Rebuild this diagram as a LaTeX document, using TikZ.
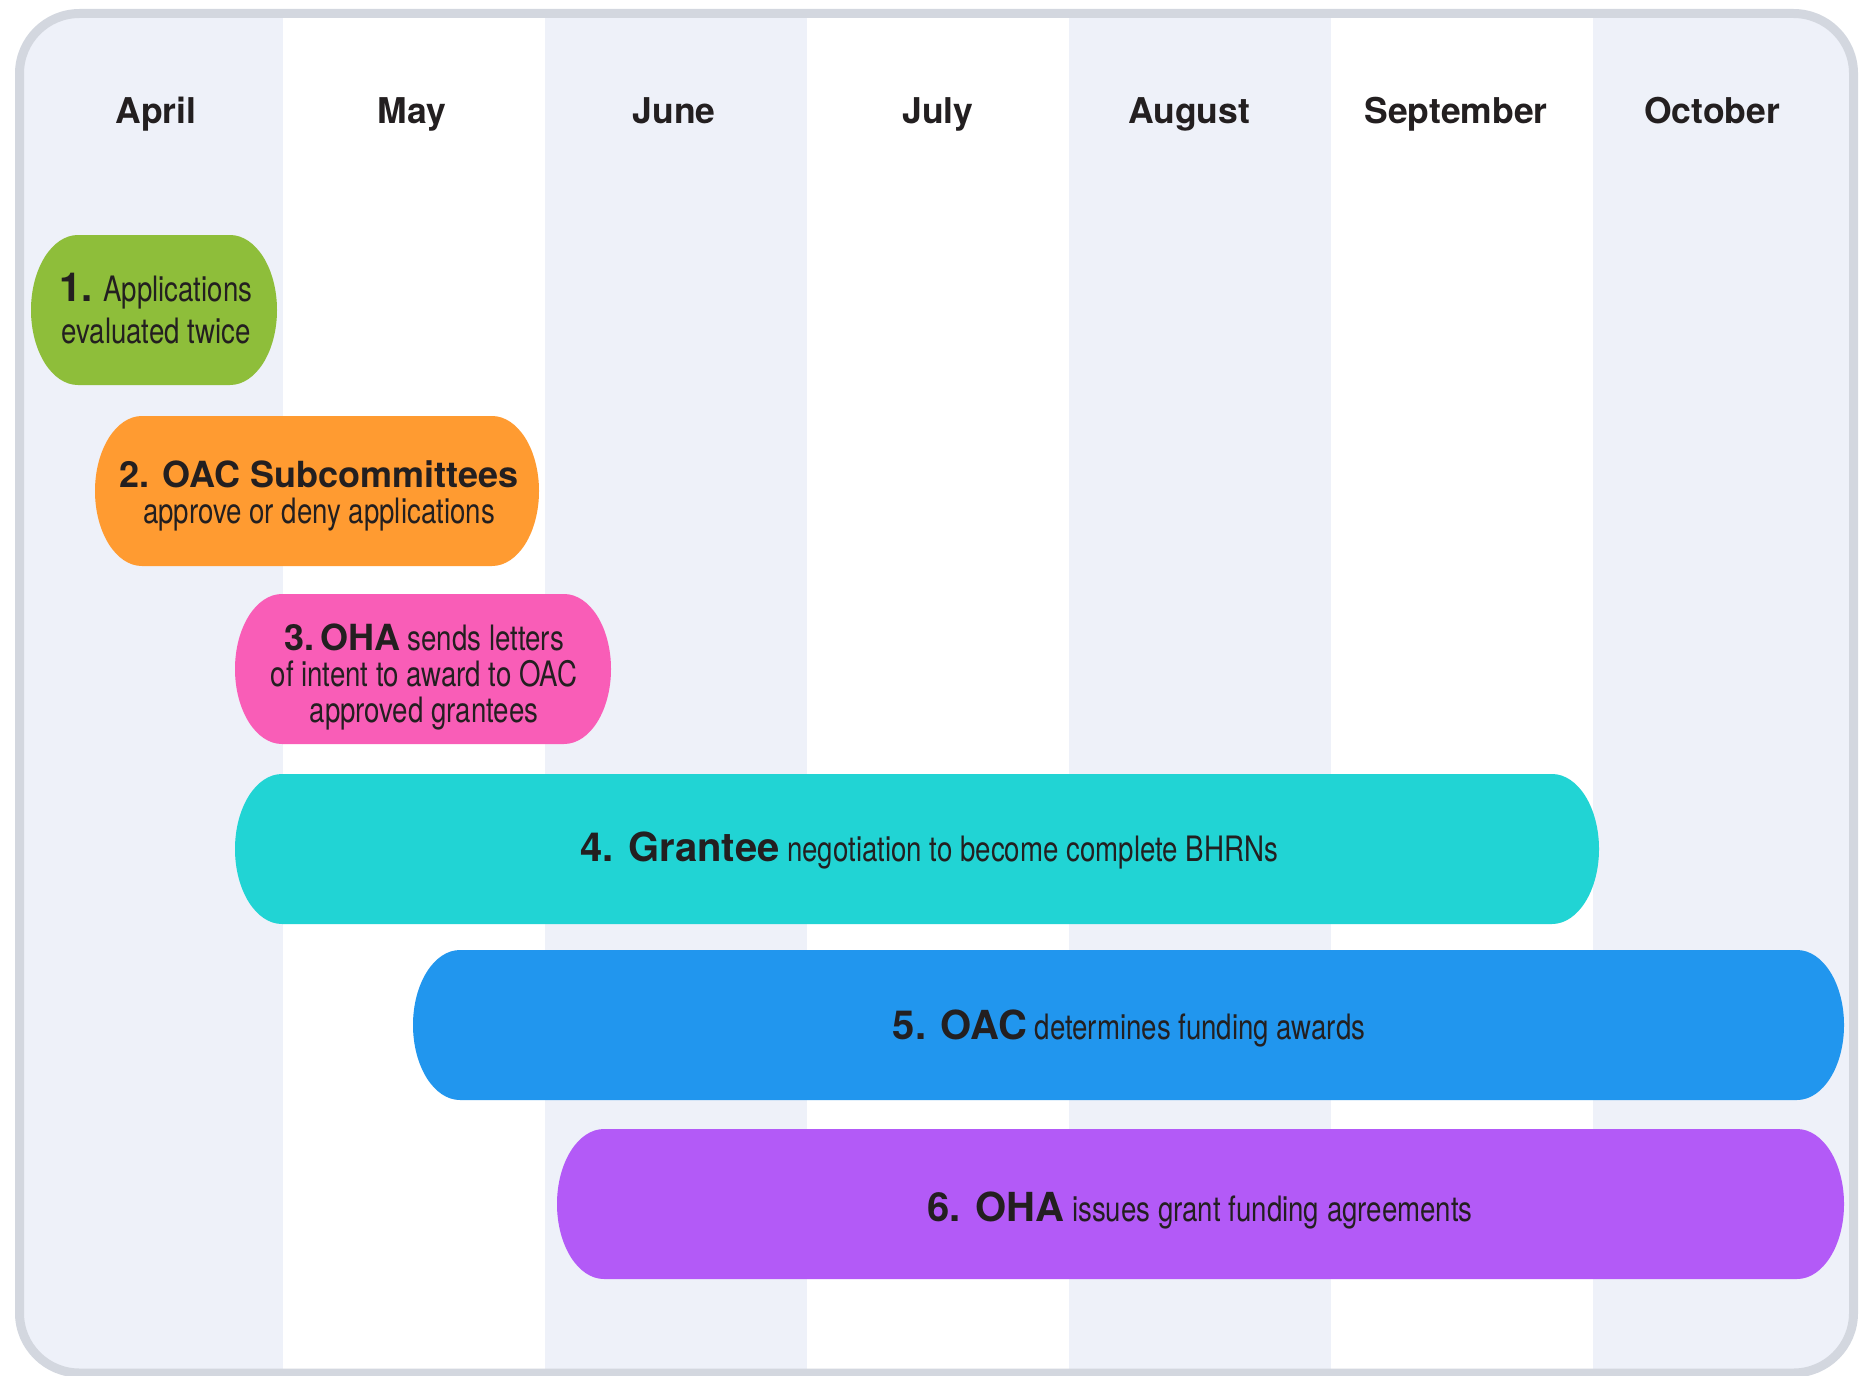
\documentclass[tikz,border=0pt]{standalone}
\usepackage{fontspec}
\setmainfont{TeX Gyre Heros}
\newfontfamily\narrowfont[FakeStretch=0.79]{TeX Gyre Heros}
\usetikzlibrary{positioning}

\definecolor{ink}{HTML}{231F20}
\definecolor{framegray}{HTML}{D3D7DF}
\definecolor{colshade}{HTML}{EEF1F9}
\definecolor{phgreen}{HTML}{8EBE3A}
\definecolor{phorange}{HTML}{FF9B31}
\definecolor{phpink}{HTML}{F95DB7}
\definecolor{phcyan}{HTML}{21D4D4}
\definecolor{phblue}{HTML}{2196EE}
\definecolor{phpurple}{HTML}{B35AF7}

% pill with elliptic ends: colour, left, right, top (px, y down)
\newcommand{\pill}[4]{%
  \fill[#1] ({#2+47},{-#4}) -- ({#3-47},{-#4})
    arc[start angle=90,end angle=-90,x radius=47,y radius=75]
    -- ({#2+47},{-#4-150})
    arc[start angle=270,end angle=90,x radius=47,y radius=75] -- cycle;}
\newcommand{\key}[2]{{\normalfont\bfseries\fontsize{#1}{#1}\selectfont #2}}

\begin{document}
\begin{tikzpicture}[x=1pt,y=1pt,
					month/.style={font=\bfseries\fontsize{35.5}{40}\selectfont, text=ink, anchor=base},
					txt/.style={align=center, text=ink, font=\narrowfont\fontsize{35}{36}\selectfont}]
	\useasboundingbox (0,0) rectangle (1867,-1375);
	% frame and shaded months
	\begin{scope}
		\clip[rounded corners=60] (19.5,-13.5) rectangle (1853.5,-1373);
		\fill[white] (0,0) rectangle (1867,-1375);
		\foreach \x/\w in {0/283, 545/262, 1069/262, 1593/274}
			\fill[colshade] (\x,0) rectangle ++(\w,-1375);
	\end{scope}
	\draw[framegray, line width=9pt, rounded corners=60] (19.5,-13.5) rectangle (1853.5,-1373);
	
	\foreach \n/\m/\x in {apr/April/156, may/May/412, jun/June/674, jul/July/938, aug/August/1189, sep/September/1456, oct/October/1712}
		\node[month] (\n) at (\x,-124) {\m};
	
	\pill{phgreen}{31}{277}{235}
	\pill{phorange}{95}{539}{416}
	\pill{phpink}{235}{611}{594}
	\pill{phcyan}{235}{1599}{774}
	\pill{phblue}{413}{1844}{950}
	\pill{phpurple}{557}{1844}{1129}
	
	\node[txt, font=\narrowfont\fontsize{35}{42}\selectfont] (p1) at (156,-309) {\key{40}{1.} Applications\\evaluated twice};
	\node[txt] (p2) at (319,-496) {\key{36}{2. OAC Subcommittees}\\approve or deny applications};
	\node[txt] (p3) at (424,-677) {\key{36}{3.\,OHA} sends letters\\of intent to award to OAC\\approved grantees};
	\node[txt] (p4) at (929,-850) {\key{40}{4. Grantee} negotiation to become complete BHRNs};
	\node[txt] (p5) at (1129,-1028) {\key{40}{5. OAC} determines funding awards};
	\node[txt] (p6) at (1200,-1210) {\key{40}{6. OHA} issues grant funding agreements};
\end{tikzpicture}
\end{document}
